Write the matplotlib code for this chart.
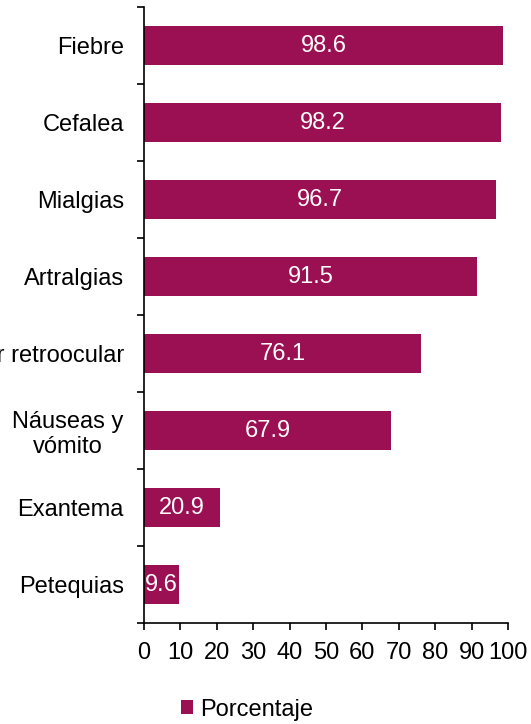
import matplotlib.pyplot as plt
import numpy as np

plt.rcParams['font.family'] = ['Liberation Sans', 'DejaVu Sans']

sintomas = ['Fiebre', 'Cefalea', 'Mialgias', 'Artralgias', 'Dolor retroocular',
            'Náuseas y\nvómito', 'Exantema', 'Petequias']
porcentaje = [98.6, 98.2, 96.7, 91.5, 76.1, 67.9, 20.9, 9.6]
color = '#9a1052'

fig = plt.figure(figsize=(5.31, 7.24), dpi=100)
ax = fig.add_axes([0.2712, 0.1395, 0.6855, 0.8508])

y = np.arange(len(sintomas))[::-1]
bars = ax.barh(y, porcentaje, height=0.5, color=color, label='Porcentaje')
for yi, v in zip(y, porcentaje):
    ax.text(v / 2, yi, '{:.1f}'.format(v), color='white', ha='center', va='center', fontsize=17)

ax.set_xlim(0, 100)
ax.set_ylim(-0.5, len(sintomas) - 0.5)
ax.set_xticks(range(0, 101, 10))
ax.set_yticks(y)
ax.set_yticklabels(sintomas, multialignment='center')
ax.set_yticks(np.arange(-0.5, len(sintomas), 1), minor=True)
ax.tick_params(axis='y', which='major', length=0, pad=14.5, labelsize=17)
ax.tick_params(axis='y', which='minor', length=5, width=1.2, direction='out')
ax.tick_params(axis='x', length=5, width=1.2, direction='out', pad=9, labelsize=17)

for s in ['top', 'right']:
    ax.spines[s].set_visible(False)
for s in ['left', 'bottom']:
    ax.spines[s].set_linewidth(1.2)

fig.legend(handles=[bars], loc='center', bbox_to_anchor=(0.465, 0.02), frameon=False,
           fontsize=17, handlelength=0.5, handleheight=0.5, handletextpad=0.3)

fig.savefig('out.png', dpi=100)
